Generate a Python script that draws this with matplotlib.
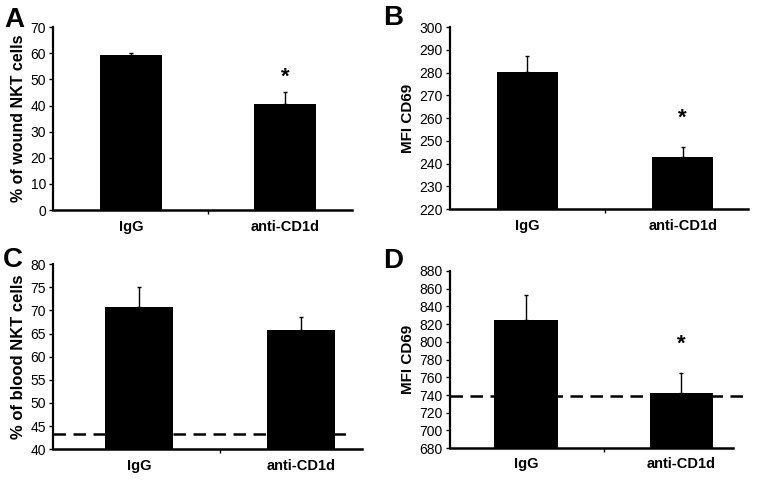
import numpy as np
import matplotlib.pyplot as plt

plt.rcParams['font.family'] = ['Liberation Sans', 'DejaVu Sans']

groups = ['IgG', 'anti-CD1d']

wound_nkt = [59.2, 40.6]
wound_nkt_err = [0.8, 4.4]

mfi_wound = [280.2, 243.0]
mfi_wound_err = [7.0, 4.5]

blood_nkt = [70.8, 65.8]
blood_nkt_err = [4.2, 2.7]
blood_baseline = 43.3

mfi_blood = [825.0, 742.0]
mfi_blood_err = [28.0, 23.0]
mfi_blood_baseline = 739.0

fig = plt.figure(figsize=(7.57, 4.83), dpi=100)


def panel(rect, vals, errs, ylim, step, ylabel, ylsize, letter, letter_xy,
          xlim, width, star=None, base=None, base_span=None):
    ax = fig.add_axes(rect)
    x = np.arange(len(vals))
    ax.bar(x, vals, width=width, color='black', zorder=3)
    ax.errorbar(x, vals, yerr=[np.zeros(len(errs)), errs], fmt='none',
                ecolor='black', elinewidth=1, capsize=1.5, capthick=1, zorder=2)
    ax.set_xlim(*xlim)
    ax.set_ylim(ylim[0], ylim[1])
    ax.set_yticks(np.arange(ylim[0], ylim[1] + step / 2, step))
    ax.set_xticks([0.5])
    ax.set_xticklabels([''])
    ax.tick_params(axis='x', length=3, width=1)
    ax.tick_params(axis='y', length=3, width=1, labelsize=10, pad=2)
    for s in ['top', 'right']:
        ax.spines[s].set_visible(False)
    ax.spines['left'].set_linewidth(1.6)
    ax.spines['bottom'].set_linewidth(1.8)
    for xi, g in zip(x, groups):
        ax.text(xi, -0.09, g, transform=ax.get_xaxis_transform(),
                ha='center', va='center', fontsize=10.5, fontweight='bold')
    ax.set_ylabel(ylabel, fontsize=ylsize, fontweight='bold', labelpad=3)
    if star is not None:
        ax.text(1, star, '*', ha='center', va='center', fontsize=16,
                fontweight='bold')
    if base is not None:
        ax.plot(base_span, [base, base], color='black', lw=1.8,
                dashes=(5, 3), zorder=1, clip_on=False)
    fig.text(letter_xy[0], letter_xy[1], letter, fontsize=20,
             fontweight='bold', ha='left', va='baseline')
    return ax


panel([0.070, 0.565, 0.395, 0.379], wound_nkt, wound_nkt_err, (0, 70), 10,
      '% of wound NKT cells', 11.5, 'A', (0.006, 0.944),
      (-0.506, 1.435), 0.40, star=51)
panel([0.594, 0.567, 0.394, 0.377], mfi_wound, mfi_wound_err, (220, 300), 10,
      'MFI CD69', 11, 'B', (0.506, 0.948),
      (-0.50, 1.42), 0.39, star=260)
panel([0.070, 0.070, 0.408, 0.383], blood_nkt, blood_nkt_err, (40, 80), 5,
      '% of blood NKT cells', 12, 'C', (0.004, 0.447),
      (-0.534, 1.373), 0.42,
      base=blood_baseline, base_span=[-0.534, 1.32])
panel([0.594, 0.072, 0.374, 0.367], mfi_blood, mfi_blood_err, (680, 880), 20,
      'MFI CD69', 11, 'D', (0.506, 0.445),
      (-0.49, 1.33), 0.41, star=797,
      base=mfi_blood_baseline, base_span=[-0.49, 1.41])

fig.savefig('out.png', dpi=100)
